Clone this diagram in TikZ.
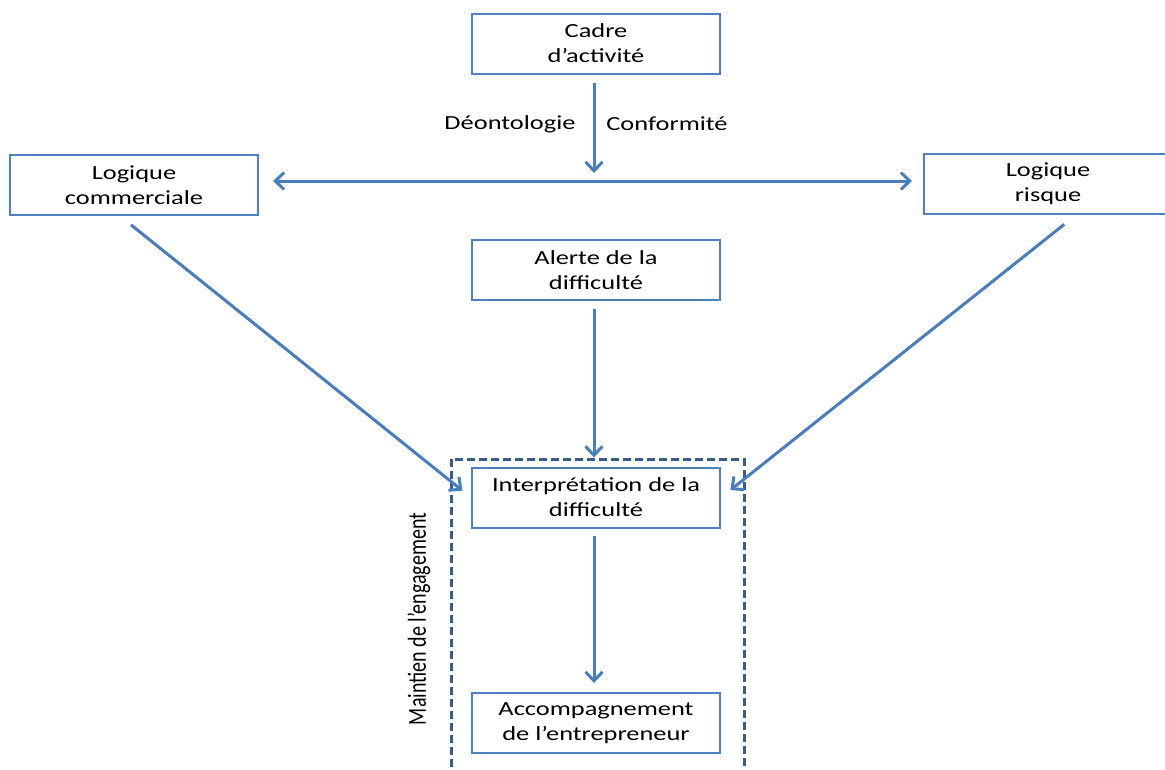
\documentclass[tikz,border=0pt]{standalone}
\usepackage{fontspec}
\setmainfont{Carlito}[FakeStretch=1.32]
\newfontfamily\plainfont{Carlito}
\usetikzlibrary{arrows.meta}
\definecolor{boxblue}{HTML}{4F81BD}
\definecolor{arrblue}{HTML}{4A7EBB}
\definecolor{dashblue}{HTML}{385D8A}
\tikzset{
  box/.style={draw=boxblue, line width=2pt, minimum width=248pt, minimum height=60pt,
    align=center, inner sep=0pt, font=\fontsize{20}{25}\selectfont, text=black},
  conn/.style={draw=arrblue, line width=3pt, -{Straight Barb[length=9pt,width=17pt]}},
  dconn/.style={draw=arrblue, line width=3pt, {Straight Barb[length=9pt,width=17pt]}-{Straight Barb[length=9pt,width=17pt]}},
  lbl/.style={font=\fontsize{20}{25}\selectfont, text=black, inner sep=0pt},
  dashbox/.style={draw=dashblue, line width=3pt, dash pattern=on 8pt off 4pt}
}
\begin{document}
\begin{tikzpicture}[x=1pt,y=-1pt]
\useasboundingbox (0,0) rectangle (1165,769);
\node[box] (cadre) at (596,43.5) {Cadre\\d’activité};
\node[box] (comm) at (134,185) {Logique\\commerciale};
\node[box] (risque) at (1048,184) {Logique\\risque};
\node[box] (alerte) at (596,270) {Alerte de la\\difficulté};
\node[box] (interp) at (596,497.5) {Interprétation de la\\difficulté};
\node[box] (accomp) at (596,723) {Accompagnement\\de l’entrepreneur};
\node[lbl] (deonto) at (510,124) {Déontologie};
\node[lbl] (conf) at (667,124) {Conformité};
\coordinate (hmid) at (594,181);
\draw[dashbox] (451,459) rectangle (744,790);
\node[inner sep=0pt, rotate=90, text=black] (maint) at (419,619)
  {\scalebox{1}[1.3]{\plainfont\fontsize{20}{24}\selectfont Maintien de l’engagement}};
\draw[conn, shorten <=8pt, shorten >=8pt] (cadre.south -| hmid) -- (hmid);
\draw[dconn, shorten <=14pt, shorten >=11pt] (comm.east |- hmid) -- (risque.west |- hmid);
\draw[conn, shorten <=14pt, shorten >=11pt] ([xshift=-14pt]comm.south) -- (interp.west);
\draw[conn, shorten <=15pt, shorten >=12pt] ([xshift=28pt]risque.south) -- (interp.east);
\draw[conn, shorten <=8pt, shorten >=9pt] (alerte.south -| hmid) -- (interp.north -| hmid);
\draw[conn, shorten <=7pt, shorten >=9pt] (interp.south -| hmid) -- (accomp.north -| hmid);
\end{tikzpicture}
\end{document}
